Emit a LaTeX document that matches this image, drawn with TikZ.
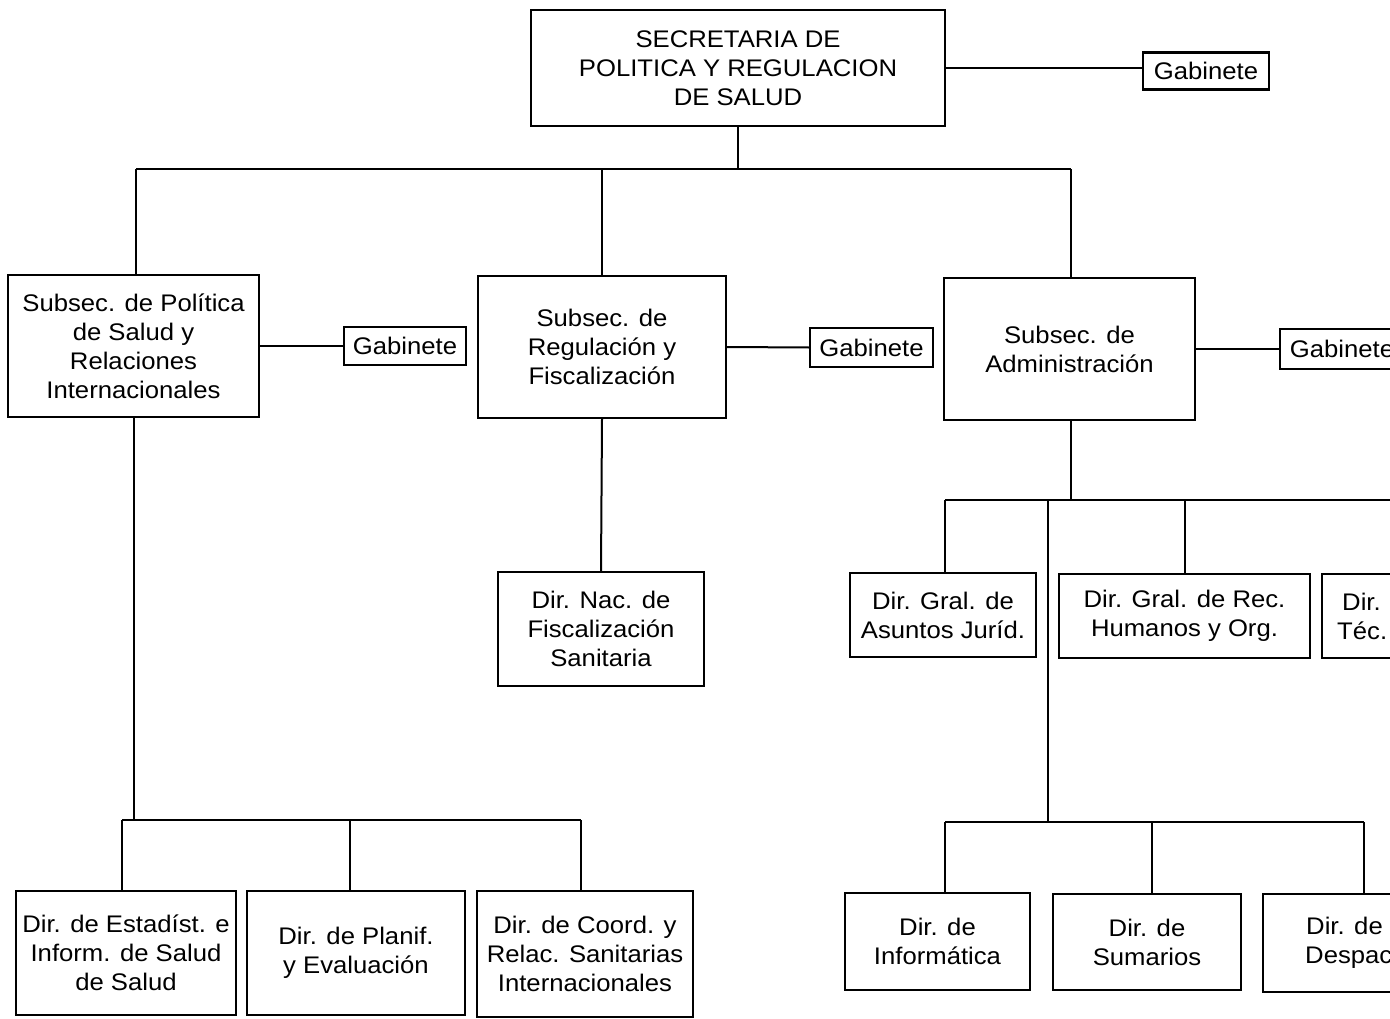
\documentclass[tikz,border=0pt]{standalone}
\usepackage{fontspec}
\setmainfont[FakeStretch=1.07]{Liberation Sans}
\begin{document}
\begin{tikzpicture}[x=1pt,y=-1pt,
  box/.style={draw,line width=2.4pt,inner sep=0pt,align=center,
    font=\fontsize{24}{29}\selectfont},
  conn/.style={line width=2pt}]
\useasboundingbox (0,0) rectangle (1390,1019);
\fill[white] (0,0) rectangle (1390,1019);
\clip (0,0) rectangle (1390,1019);
% top level
\node[box,minimum width=414pt,minimum height=116pt] (top) at (738,68) {SECRETARIA DE\\POLITICA Y REGULACION\\DE SALUD};
\node[box,minimum width=126pt,minimum height=37pt] (gab0) at (1206,71) {Gabinete};
% subsecretarias
\node[box,minimum width=251pt,minimum height=142pt] (A) at (133.5,346) {Subsec. de Política\\de Salud y\\Relaciones\\Internacionales};
\node[box,minimum width=122pt,minimum height=38pt] (gabA) at (405,346) {Gabinete};
\node[box,minimum width=248pt,minimum height=142pt] (B) at (602,347) {Subsec. de\\Regulación y\\Fiscalización};
\node[box,minimum width=123pt,minimum height=39pt] (gabB) at (871.5,347.5) {Gabinete};
\node[box,minimum width=251pt,minimum height=142pt] (C) at (1069.5,349) {Subsec. de\\Administración};
\node[box,minimum width=124pt,minimum height=40pt] (gabC) at (1342,349) {Gabinete};
% under B
\node[box,minimum width=206pt,minimum height=114pt] (nac) at (601,629) {Dir. Nac. de\\Fiscalización\\Sanitaria};
% under C
\node[box,minimum width=186pt,minimum height=84pt] (jur) at (943,615) {Dir. Gral. de\\Asuntos Juríd.};
\node[box,minimum width=251pt,minimum height=84pt] (rrhh) at (1184.5,616) {Dir. Gral. de Rec.\\Humanos y Org.};
\node[box,minimum width=198pt,minimum height=84pt] (tec) at (1421,616) {};
\node[font=\fontsize{24}{29}\selectfont,align=left,anchor=west,inner sep=0pt] (tecT) at (1337,616) {\hspace*{5pt}Dir. Gral.\\Téc.};
\node[box,minimum width=185pt,minimum height=97pt] (inf) at (937.5,941.5) {Dir. de\\Informática};
\node[box,minimum width=188pt,minimum height=96pt] (sum) at (1147,942) {Dir. de\\Sumarios};
\node[box,minimum width=198pt,minimum height=98pt] (desp) at (1362,943) {};
\node[font=\fontsize{24}{29}\selectfont,align=left,anchor=west,inner sep=0pt] (despT) at (1305,943) {\hspace*{1pt}Dir. de\\Despacho};
% under A
\node[box,minimum width=220pt,minimum height=124pt] (est) at (126,953) {Dir. de Estadíst. e\\Inform. de Salud\\de Salud};
\node[box,minimum width=218pt,minimum height=124pt] (plan) at (356,953) {Dir. de Planif.\\y Evaluación};
\node[box,minimum width=216pt,minimum height=126pt] (coord) at (585,954) {Dir. de Coord. y\\Relac. Sanitarias\\Internacionales};
% connectors top
\coordinate (bus1) at (738,169);
\coordinate (b1L) at (136,169);
\coordinate (b1R) at (1071,169);
\draw[conn] (top.east) -- (top.east -| gab0.west);
\draw[conn] (top.south) -- (bus1);
\draw[conn] (b1L) -- (b1R);
\draw[conn] (b1L) -- (b1L |- A.north);
\draw[conn] (bus1 -| B.north) -- (B.north);
\draw[conn] (b1R) -- (b1R |- C.north);
\draw[conn] (A.east) -- (gabA.west);
\draw[conn] (B.east) -- (gabB.west);
\draw[conn] (C.east) -- (gabC.west);
% under B
\draw[conn] (B.south) -- (nac.north);
% under C
\coordinate (c2) at (1071,500);
\coordinate (b2L) at (945,500);
\coordinate (b2R) at (1421,500);
\coordinate (b2M) at (1048,500);
\draw[conn] (C.south -| c2) -- (c2);
\draw[conn] (b2L) -- (b2R);
\draw[conn] (b2L) -- (b2L |- jur.north);
\draw[conn] (b2R -| rrhh.north) -- (rrhh.north);
\draw[conn] (b2R) -- (tec.north);
\coordinate (b3M) at (1048,822);
\coordinate (b3L) at (945,822);
\coordinate (b3R) at (1364,822);
\draw[conn] (b2M) -- (b3M);
\draw[conn] (b3L) -- (b3R);
\draw[conn] (b3L) -- (b3L |- inf.north);
\coordinate (b3S) at (1152,822);
\draw[conn] (b3S) -- (b3S |- sum.north);
\draw[conn] (b3R) -- (b3R |- desp.north);
% under A
\coordinate (a4) at (134,820);
\coordinate (b4L) at (122,820);
\coordinate (b4R) at (581,820);
\coordinate (b4M) at (350,820);
\draw[conn] (A.south -| a4) -- (a4);
\draw[conn] (b4L) -- (b4R);
\draw[conn] (b4L) -- (b4L |- est.north);
\draw[conn] (b4M) -- (b4M |- plan.north);
\draw[conn] (b4R) -- (b4R |- coord.north);
\end{tikzpicture}
\end{document}
